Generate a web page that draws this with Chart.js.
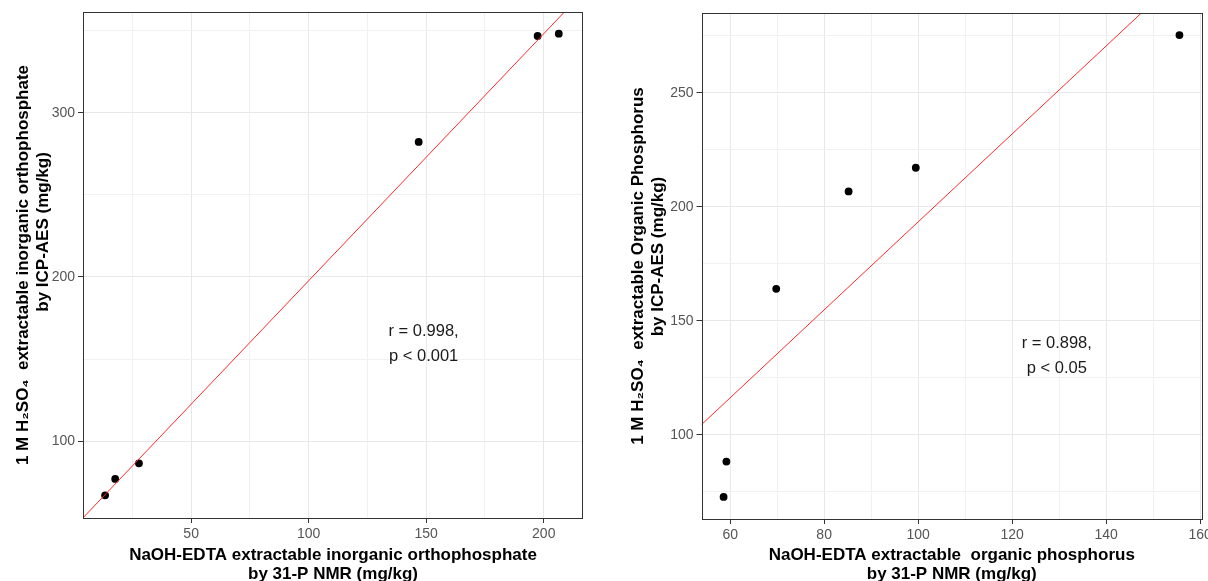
<!DOCTYPE html>
<html>
<head>
<meta charset="utf-8">
<script src="https://cdn.jsdelivr.net/npm/chart.js@4.4.0/dist/chart.umd.min.js"></script>
<style>
  body { margin: 0; background: #fff; overflow: hidden; width: 1208px; height: 581px; position: relative; }
  canvas { position: absolute; top: 0; }
  #leftChart { left: 0; }
  #rightChart { left: 600px; }
</style>
</head>
<body>
<canvas id="leftChart" width="600" height="590"></canvas>
<canvas id="rightChart" width="608" height="590"></canvas>
<script>
// LEFT - inorganic orthophosphate
const inorgNmr = [13.4, 17.7, 27.8, 146.8, 197.4, 206.4];
const inorgIcp = [67.1, 77.1, 86.6, 282.2, 346.7, 348.1];
const inorgFitX = [4, 208.8];
const inorgFitY = [53.4, 361.3];
const inorgXRange = [4, 216.7];
const inorgYRange = [53.3, 361.3];
const inorgXTicks = [25, 50, 75, 100, 125, 150, 175, 200];
const inorgXLabels = [50, 100, 150, 200];
const inorgYTicks = [100, 150, 200, 250, 300, 350];
const inorgYLabels = [100, 200, 300];
const inorgStats = ["r = 0.998,", "p < 0.001"];
const inorgStatsAt = [148.9, 159.1];

// RIGHT - organic phosphorus
const orgNmr = [58.6, 59.2, 69.8, 85.2, 99.5, 155.6];
const orgIcp = [72.7, 88.2, 164.0, 206.7, 217.1, 275.3];
const orgFitX = [53.9, 147.5];
const orgFitY = [104.4, 285];
const orgXRange = [53.9, 160.4];
const orgYRange = [63, 285];
const orgXTicks = [60, 70, 80, 90, 100, 110, 120, 130, 140, 150, 160];
const orgXLabels = [60, 80, 100, 120, 140, 160];
const orgYTicks = [75, 100, 125, 150, 175, 200, 225, 250, 275];
const orgYLabels = [100, 150, 200, 250];
const orgStats = ["r = 0.898,", "p < 0.05"];
const orgStatsAt = [129.5, 134.5];

const FONT = "'Liberation Sans', Arial, sans-serif";

// panel border + r/p text
const panelExtras = {
  id: 'panelExtras',
  afterDatasetsDraw(chart, args, opts) {
    const { ctx, chartArea: a, scales } = chart;
    ctx.save();
    ctx.font = '16.5px ' + FONT;
    ctx.fillStyle = '#1a1a1a';
    ctx.textAlign = 'center';
    ctx.textBaseline = 'middle';
    const cx = scales.x.getPixelForValue(opts.at[0]);
    const cy = scales.y.getPixelForValue(opts.at[1]);
    opts.lines.forEach((t, i) => {
      ctx.fillText(t, cx, cy + (i - (opts.lines.length - 1) / 2) * 25);
    });
    ctx.strokeStyle = '#333';
    ctx.lineWidth = 1;
    ctx.strokeRect(Math.round(a.left) + 0.5, Math.round(a.top) + 0.5,
      Math.round(a.right - a.left) - 1, Math.round(a.bottom - a.top));
    ctx.restore();
  }
};

const makeAxis = (range, ticks, labels, title, fit) => ({
  type: 'linear',
  min: range[0],
  max: range[1],
  afterBuildTicks: (s) => { s.ticks = ticks.map(v => ({ value: v })); },
  afterFit: (s) => {
    fit(s);
    // no extra room for edge labels (ggplot lets them overflow)
    s.paddingLeft = 0; s.paddingRight = 0; s.paddingTop = 0; s.paddingBottom = 0;
  },
  border: { display: false },
  grid: {
    color: (c) => (c.tick && labels.includes(c.tick.value)) ? '#e8e8e8' : '#f1f1f1',
    lineWidth: 1,
    tickLength: 5,
    tickColor: (c) => (c.tick && labels.includes(c.tick.value)) ? '#333' : 'rgba(0,0,0,0)'
  },
  ticks: {
    autoSkip: false,
    maxRotation: 0,
    padding: 3,
    color: '#555',
    font: { family: FONT, size: 14 },
    callback: (v) => labels.includes(v) ? String(v) : ''
  },
  title: title
});

const makePanel = (id, p) => new Chart(document.getElementById(id), {
  type: 'scatter',
  data: {
    datasets: [
      {
        data: p.fitX.map((x, i) => ({ x: x, y: p.fitY[i] })),
        showLine: true,
        borderColor: '#ff2a2a',
        borderWidth: 1,
        pointRadius: 0
      },
      {
        data: p.nmr.map((x, i) => ({ x: x, y: p.icp[i] })),
        pointRadius: 3.9,
        backgroundColor: '#000',
        borderColor: '#000',
        borderWidth: 0
      }
    ]
  },
  options: {
    responsive: false,
    animation: false,
    layout: { padding: p.pad },
    plugins: {
      legend: { display: false },
      tooltip: { enabled: false },
      panelExtras: { lines: p.stats, at: p.statsAt }
    },
    scales: {
      x: makeAxis(p.xRange, p.xTicks, p.xLabels, {
        display: true,
        text: p.xTitle,
        color: '#000',
        font: { family: FONT, size: 17, weight: 'bold', lineHeight: 1.15 },
        padding: { top: 0, bottom: 5.5 }
      }, (s) => { s.height = p.xHeight; }),
      y: makeAxis(p.yRange, p.yTicks, p.yLabels, {
        display: true,
        text: p.yTitle,
        color: '#000',
        font: { family: FONT, size: 17, weight: 'bold', lineHeight: 1.15 },
        padding: { top: p.yTitlePad, bottom: 0 }
      }, (s) => { s.width = p.yWidth; })
    }
  },
  plugins: [panelExtras]
});

makePanel('leftChart', {
  nmr: inorgNmr, icp: inorgIcp, fitX: inorgFitX, fitY: inorgFitY,
  xRange: inorgXRange, yRange: inorgYRange,
  xTicks: inorgXTicks, xLabels: inorgXLabels, yTicks: inorgYTicks, yLabels: inorgYLabels,
  stats: inorgStats, statsAt: inorgStatsAt,
  xTitle: ['NaOH-EDTA extractable inorganic orthophosphate', 'by 31-P NMR (mg/kg)'],
  yTitle: ['1 M H\u2082SO\u2084  extractable inorganic orthophosphate',
           '              by ICP-AES (mg/kg)'],
  pad: { top: 12, right: 17, left: 0, bottom: 0 },
  xHeight: 72, yWidth: 83, yTitlePad: 14
});

makePanel('rightChart', {
  nmr: orgNmr, icp: orgIcp, fitX: orgFitX, fitY: orgFitY,
  xRange: orgXRange, yRange: orgYRange,
  xTicks: orgXTicks, xLabels: orgXLabels, yTicks: orgYTicks, yLabels: orgYLabels,
  stats: orgStats, statsAt: orgStatsAt,
  xTitle: ['NaOH-EDTA extractable  organic phosphorus', 'by 31-P NMR (mg/kg)'],
  yTitle: ['1 M H\u2082SO\u2084  extractable Organic Phosphorus',
           '    by ICP-AES (mg/kg)'],
  pad: { top: 13, right: 6, left: 0, bottom: 0 },
  xHeight: 71, yWidth: 101.5, yTitlePad: 29
});
</script>
</body>
</html>
